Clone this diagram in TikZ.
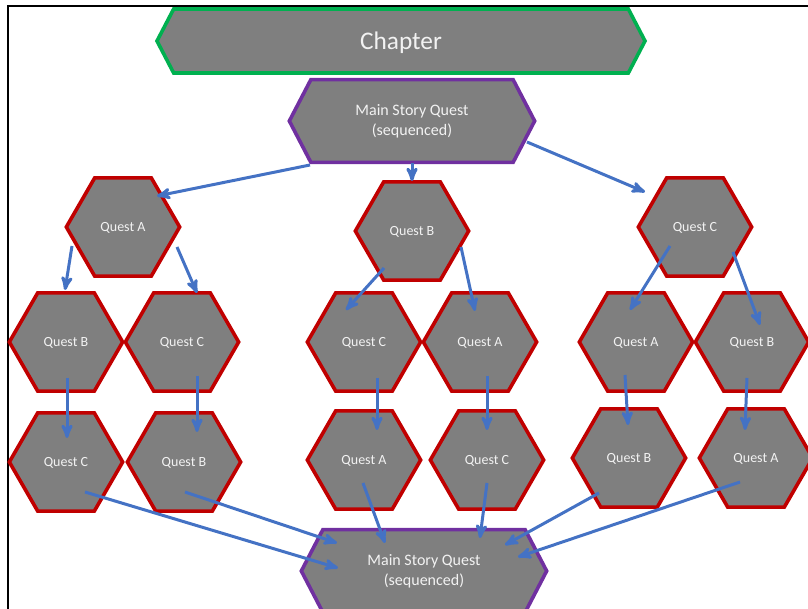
\documentclass[tikz,border=0pt]{standalone}
\usepackage{fontspec}
\setmainfont{Carlito}
\usepackage{tikz}
\usetikzlibrary{arrows,calc,shapes.geometric,shapes.symbols}
\definecolor{hexfill}{RGB}{127,127,127}
\definecolor{questred}{RGB}{192,0,0}
\definecolor{chapgreen}{RGB}{0,176,80}
\definecolor{storypurple}{RGB}{112,48,160}
\definecolor{linkblue}{RGB}{68,114,196}
\definecolor{hextext}{RGB}{242,242,242}

\begin{document}
\begin{tikzpicture}[x=0.75pt,y=-0.75pt,->,>=stealth',
    hex/.style={draw,fill=hexfill,text=hextext,line width=2.7pt},
    quest/.style={hex,regular polygon,regular polygon sides=6,draw=questred,
                  minimum size=85pt,inner sep=0pt,text depth=0pt,
                  font=\fontsize{10.5}{12}\selectfont},
    story/.style={hex,signal,signal to=east and west,signal pointer angle=125,
                  draw=storypurple,minimum width=184pt,minimum height=62pt,
                  align=center,font=\fontsize{12}{15}\selectfont},
    chapterbox/.style={hex,signal,signal to=east and west,signal pointer angle=125,
                  draw=chapgreen,minimum width=366pt,minimum height=48pt,
                  text depth=0pt,font=\fontsize{19}{22}\selectfont},
    link/.style={draw=linkblue,line width=2.25pt}]

        \useasboundingbox (0,0) rectangle (808,609);
        \draw[-,line width=1.5pt] (8,609) -- (8,6) -- (808,6);

        \node[chapterbox] (chapter) at (401,41) {Chapter};
        \node[story] (mainTop) at (412,121) {Main Story Quest\\(sequenced)};

        \node[quest] (qA) at (123,227) {Quest A};
        \node[quest] (qB) at (412,231) {Quest B};
        \node[quest] (qC) at (695,227) {Quest C};

        \node[quest] (qAB) at (66,342) {Quest B};
        \node[quest] (qAC) at (182,342) {Quest C};
        \node[quest] (qBC) at (364,342) {Quest C};
        \node[quest] (qBA) at (480,342) {Quest A};
        \node[quest] (qCA) at (636,342) {Quest A};
        \node[quest] (qCB) at (752,342) {Quest B};

        \node[quest] (qABC) at (66,462) {Quest C};
        \node[quest] (qACB) at (184,462) {Quest B};
        \node[quest] (qBCA) at (364,460) {Quest A};
        \node[quest] (qBAC) at (487,460) {Quest C};
        \node[quest] (qCAB) at (629,458) {Quest B};
        \node[quest] (qCBA) at (756,458) {Quest A};

        \node[story] (mainBot) at (424,571) {Main Story Quest\\(sequenced)};

        \draw[link] ($(mainTop)+(-102,44)$) -- ($(qA)+(34,-31)$);
        \draw[link] ($(mainTop)+(0,42)$) -- ($(qB)+(0,-50)$);
        \draw[link] ($(mainTop)+(115,21)$) -- ($(qC)+(-50,-35)$);

        \draw[link] ($(qA)+(-51,19)$) -- ($(qAB)+(-1,-52)$);
        \draw[link] ($(qA)+(54,20)$) -- ($(qAC)+(15,-49)$);
        \draw[link] ($(qB)+(-28,37)$) -- ($(qBC)+(-18,-32)$);
        \draw[link] ($(qB)+(49,16)$) -- ($(qBA)+(-5,-31)$);
        \draw[link] ($(qC)+(-25,19)$) -- ($(qCA)+(-6,-32)$);
        \draw[link] ($(qC)+(38,25)$) -- ($(qCB)+(8,-17)$);

        \draw[link] ($(qAB)+(1,36)$) -- ($(qABC)+(1,-24)$);
        \draw[link] ($(qAC)+(15,34)$) -- ($(qACB)+(13,-30)$);
        \draw[link] ($(qBC)+(13,36)$) -- ($(qBCA)+(13,-30)$);
        \draw[link] ($(qBA)+(7,34)$) -- ($(qBAC)+(0,-30)$);
        \draw[link] ($(qCA)+(-11,33)$) -- ($(qCAB)+(-1,-33)$);
        \draw[link] ($(qCB)+(-5,36)$) -- ($(qCBA)+(-11,-28)$);

        \draw[link] ($(qABC)+(19,30)$) -- ($(mainBot)+(-86,-3)$);
        \draw[link] ($(qACB)+(1,30)$) -- ($(mainBot)+(-87,-28)$);
        \draw[link] ($(qBCA)+(-1,23)$) -- ($(mainBot)+(-39,-28)$);
        \draw[link] ($(qBAC)+(0,23)$) -- ($(mainBot)+(56,-33)$);
        \draw[link] ($(qCAB)+(-30,35)$) -- ($(mainBot)+(81,-26)$);
        \draw[link] ($(qCBA)+(-16,24)$) -- ($(mainBot)+(94,-14)$);
    \end{tikzpicture}
\end{document}
